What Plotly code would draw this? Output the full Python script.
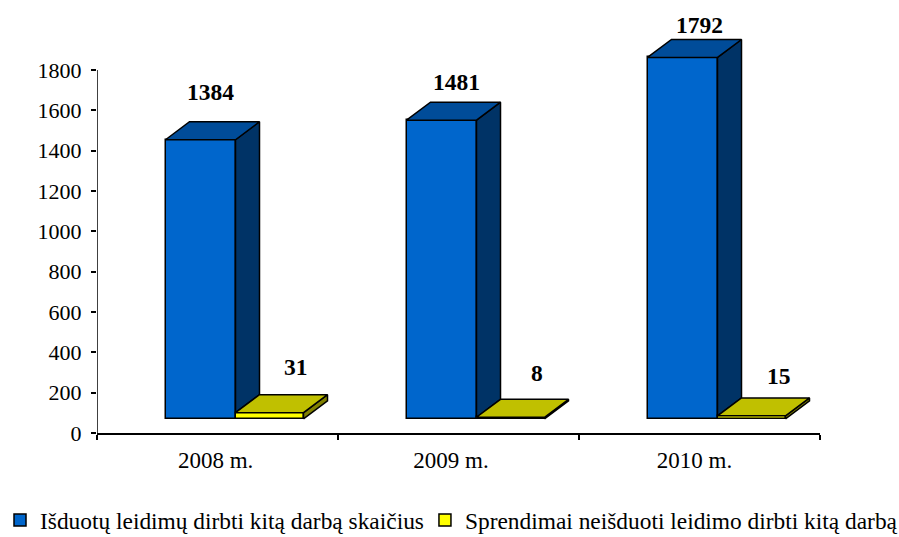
import plotly.graph_objects as go

years = ["2008 m.", "2009 m.", "2010 m."]
year_label_pos = [0.492, 1.469, 2.479]
issued = [1384, 1481, 1792]
refused = [31, 8, 15]
name_issued = "Išduotų leidimų dirbti kitą darbą skaičius"
name_refused = "Sprendimai neišduoti leidimo dirbti kitą darbą"
y_ticks = [0, 200, 400, 600, 800, 1000, 1200, 1400, 1600, 1800]

# pseudo-3D geometry, in axis units
FLOOR = 70
DEPTH_X = 24 / 241
DEPTH_Y = 89
START = 68.5 / 241
W1 = 70 / 241
W2 = 68 / 241

# manual label nudges in pixels (x, y) relative to the back-top-edge centre of each box
issued_shift = [(-2, 30), (3, 20), (5, 14)]
refused_shift = [(14, 28), (14, 26), (15, 22)]

FONT = "Liberation Serif"
EDGE = dict(color="black", width=1.5)
fig = go.Figure()

xs = [i + START for i in range(3)]
fig.add_trace(go.Bar(name=name_issued, x=[a + W1 / 2 for a in xs], y=issued, base=FLOOR, width=W1,
                     marker=dict(color="#0066CC", line=EDGE), legend="legend"))
fig.add_trace(go.Bar(name=name_refused, x=[a + W1 + W2 / 2 for a in xs], y=refused, base=FLOOR, width=W2,
                     marker=dict(color="#FFFF00", line=EDGE), legend="legend2"))


def poly(x, y, color):
    fig.add_trace(go.Scatter(x=x, y=y, mode="lines", fill="toself", fillcolor=color, line=EDGE,
                             showlegend=False, hoverinfo="skip"))


for a, v, r in zip(xs, issued, refused):
    x1 = a + W1
    t = FLOOR + v
    f = FLOOR + r
    poly([x1, x1 + DEPTH_X, x1 + DEPTH_X, x1, x1], [f, f + DEPTH_Y, t + DEPTH_Y, t, f], "#003366")
    poly([a, a + DEPTH_X, x1 + DEPTH_X, x1, a], [t, t + DEPTH_Y, t + DEPTH_Y, t, t], "#004C99")
for a, r in zip(xs, refused):
    x0 = a + W1
    x1 = x0 + W2
    t = FLOOR + r
    poly([x1, x1 + DEPTH_X, x1 + DEPTH_X, x1, x1], [FLOOR, FLOOR + DEPTH_Y, t + DEPTH_Y, t, FLOOR], "#808000")
    poly([x0, x0 + DEPTH_X, x1 + DEPTH_X, x1, x0], [t, t + DEPTH_Y, t + DEPTH_Y, t, t], "#C0C000")

annotations = []
for i, a in enumerate(xs):
    for v, cx, shift in ((issued[i], a + W1 / 2, issued_shift[i]), (refused[i], a + W1 + W2 / 2, refused_shift[i])):
        annotations.append(dict(x=cx + DEPTH_X / 2, y=FLOOR + v + DEPTH_Y, text=f"<b>{v}</b>", showarrow=False,
                                xshift=shift[0], yshift=shift[1], yanchor="middle", xanchor="center",
                                font=dict(family=FONT, size=23.5, color="black")))

legend_common = dict(orientation="h", xref="container", yref="container", xanchor="left", yanchor="top",
                     font=dict(family=FONT, size=23.4), itemclick=False, bgcolor="rgba(0,0,0,0)")

fig.update_layout(
    width=899, height=537, barmode="overlay", bargap=0,
    margin=dict(l=97, r=79, t=30, b=104, pad=0),
    paper_bgcolor="white", plot_bgcolor="white",
    font=dict(family=FONT, size=22, color="black"),
    annotations=annotations,
    shapes=[dict(type="line", xref="x", yref="y", x0=0, x1=0, y0=0, y1=y_ticks[-1],
                 line=dict(color="black", width=1.5))],
    legend=dict(x=0, y=0.072, **legend_common),
    legend2=dict(x=0.4727, y=0.072, **legend_common),
    xaxis=dict(range=[0, 3], tickvals=year_label_pos, ticktext=years, ticks="", showgrid=False,
               zeroline=False, showline=True, linecolor="black", linewidth=1.5, ticklabelstandoff=6,
               tickfont=dict(size=23),
               minor=dict(tickvals=list(range(4)), ticks="outside", ticklen=5, tickwidth=1.5, tickcolor="black")),
    yaxis=dict(range=[0, 1998], tickvals=y_ticks, ticks="outside", ticklen=5, tickwidth=1.5, tickcolor="black",
               showgrid=False, zeroline=False, showline=False, ticklabelstandoff=5),
)
fig.write_html("out.html", config=dict(displayModeBar=False),
               post_script="document.body.style.margin='0';")
